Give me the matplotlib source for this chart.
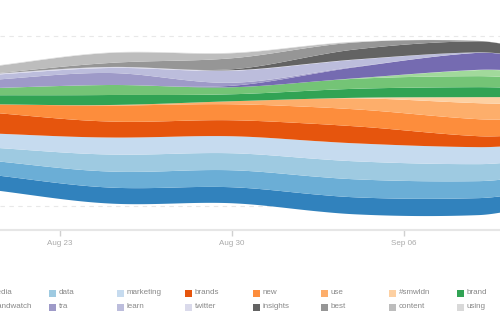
import numpy as np
import matplotlib
matplotlib.use("Agg")
import matplotlib.pyplot as plt
import matplotlib.dates as mdates
from matplotlib.patches import Rectangle

# ---------------- data ----------------
dates = np.array(["2014-08-20", "2014-08-25", "2014-08-30",
                  "2014-09-04", "2014-09-09", "2014-09-11"], dtype="datetime64[D]")

names = ["", "media", "data", "marketing", "brands", "new", "use", "#smwldn", "brand",
         "", "", "", "brandwatch", "tra", "learn", "twitter", "insights", "best",
         "content", "using"]

colors = ["#3182bd", "#6baed6", "#9ecae1", "#c6dbef", "#e6550d", "#fd8d3c", "#fdae6b",
          "#fdd0a2", "#31a354", "#74c476", "#a1d99b", "#c7e9c0", "#756bb1", "#9e9ac8",
          "#bcbddc", "#dadaeb", "#636363", "#969696", "#bdbdbd", "#d9d9d9"]

s00 = [15, 16, 16, 17, 17, 15]
s01 = [14, 16, 17, 18, 17, 16]
s02 = [13, 17, 17, 18, 17, 16]
s03 = [14, 17, 17, 18, 17, 16]
s04 = [21, 16, 16, 17, 11, 10]
s05 = [8, 16, 16, 17, 17, 16]
s06 = [0, 0.5, 3, 11, 16, 15]
s07 = [0, 0, 0, 0.5, 6, 7]
s08 = [9, 10, 7, 9, 10, 9]
s09 = [7, 10, 7, 10, 11, 10]
s10 = [0, 0, 0, 0.5, 6, 7]
s11 = [0, 0, 0, 0, 0.3, 0.3]
s12 = [0, 0, 1.5, 11, 17, 14]
s13 = [8, 12, 3, 0.5, 0, 0]
s14 = [5, 5, 12, 7, 0.5, 0.5]
s15 = [1, 1, 0.5, 0.3, 0, 0]
s16 = [0, 0, 1, 10, 11, 8]
s17 = [0, 4, 11, 7, 0.5, 0.3]
s18 = [7, 10, 5, 0.5, 0, 0]
s19 = [0.5, 0.5, 0.5, 0.3, 0, 0]
series = [s00, s01, s02, s03, s04, s05, s06, s07, s08, s09,
          s10, s11, s12, s13, s14, s15, s16, s17, s18, s19]

tick_dates = np.array(["2014-08-23", "2014-08-30", "2014-09-06"], dtype="datetime64[D]")
tick_labels = ["Aug 23", "Aug 30", "Sep 06"]


# ---------------- smooth curve drawing (cardinal cubic) ----------------
def smooth(x, y, xn):
    x = np.asarray(x, float); y = np.asarray(y, float)
    h = np.diff(x)
    m = np.zeros_like(y)
    m[1:-1] = (y[2:] - y[:-2]) / (x[2:] - x[:-2])
    m[0] = (y[1] - y[0]) / h[0]
    m[-1] = (y[-1] - y[-2]) / h[-1]
    idx = np.clip(np.searchsorted(x, xn) - 1, 0, len(x) - 2)
    t = (xn - x[idx]) / h[idx]
    h00 = 2 * t**3 - 3 * t**2 + 1; h10 = t**3 - 2 * t**2 + t
    h01 = -2 * t**3 + 3 * t**2; h11 = t**3 - t**2
    return h00 * y[idx] + h10 * h[idx] * m[idx] + h01 * y[idx + 1] + h11 * h[idx] * m[idx + 1]


xd = mdates.date2num(dates.astype("datetime64[s]").astype(object))
xf = np.linspace(xd[0], xd[-1], 400)
Y = np.array([np.maximum(smooth(xd, s, xf), 0) for s in series])

# ---------------- figure ----------------
plt.rcParams["font.family"] = ["Liberation Sans", "DejaVu Sans"]
fig = plt.figure(figsize=(5, 3.3), dpi=100)
ax = fig.add_axes([0, 100 / 330, 1, 220 / 330])

ax.stackplot(xf, Y, baseline="sym", colors=colors, linewidth=0, zorder=2)

a23 = mdates.date2num(np.datetime64("2014-08-23", "s").astype(object))
ax.set_xlim(a23 - 60 / 24.57, a23 + 440 / 24.57)
ax.set_ylim(-102, 118)

ax.set_yticks([-78, 92])
ax.yaxis.grid(True, color="#e8e8e8", linestyle=(0, (4, 4)), linewidth=0.8, zorder=0)
ax.tick_params(axis="y", left=False, labelleft=False)

tx = mdates.date2num(tick_dates.astype("datetime64[s]").astype(object))
ax.set_xticks(tx)
ax.set_xticklabels(tick_labels)
ax.tick_params(axis="x", colors="#d0d0d0", length=4, width=1, labelcolor="#aaaaaa",
               labelsize=5.8, pad=3)
for side in ["top", "left", "right"]:
    ax.spines[side].set_visible(False)
ax.spines["bottom"].set_color("#e6e6e6")
ax.spines["bottom"].set_linewidth(1.5)

# ---------------- legend (uniform columns, 11 per row) ----------------
W, H = 500.0, 330.0
col0_x = -87.0
pitch = 68.0
row_y = [293.0, 307.0]
for i, (nm, c) in enumerate(zip(names, colors)):
    if not nm:
        continue
    row, col = divmod(i, 11)
    x = col0_x + col * pitch
    y = row_y[row]
    fig.patches.append(Rectangle((x / W, 1 - (y + 3.5) / H), 7 / W, 7 / H,
                                 transform=fig.transFigure, facecolor=c,
                                 edgecolor="none"))
    fig.text((x + 9.5) / W, 1 - y / H, nm, fontsize=5.8, color="#888888",
             va="center", ha="left")

fig.savefig("out.png", dpi=100)
